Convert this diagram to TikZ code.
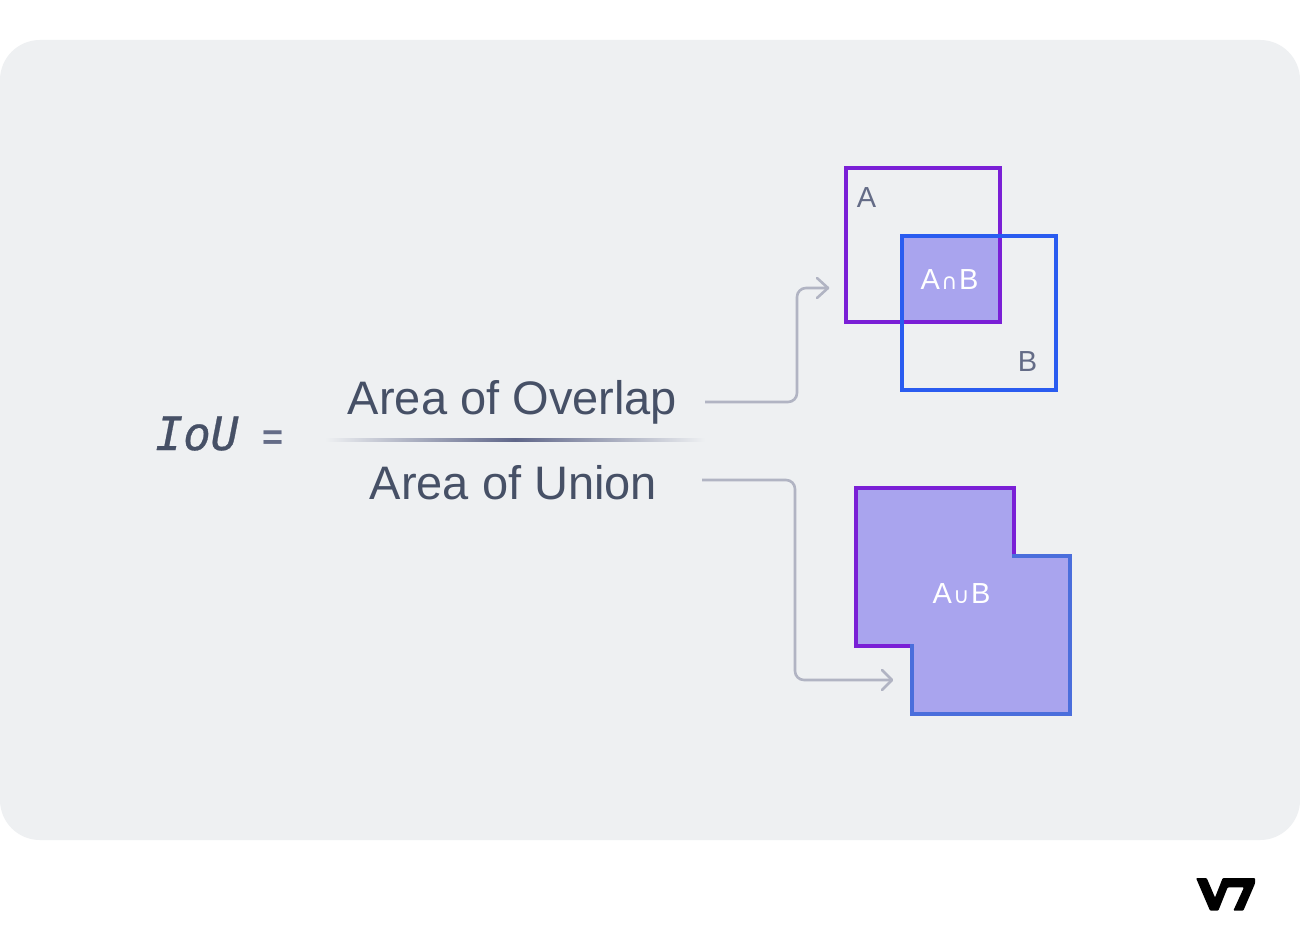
\documentclass[tikz,border=0pt]{standalone}
\usepackage{fontspec}
\setmainfont{Liberation Sans}
\newfontfamily\symfont{DejaVu Sans}
\newfontfamily\monofont[FakeBold=0.6]{DejaVu Sans Mono}
\definecolor{panel}{HTML}{EEF0F2}
\definecolor{ink}{HTML}{465066}
\definecolor{labelink}{HTML}{646C87}
\definecolor{purp}{HTML}{7A1FD6}
\definecolor{blu}{HTML}{2A5CF0}
\definecolor{softblu}{HTML}{4A6EDC}
\definecolor{fillv}{HTML}{A9A4EE}
\definecolor{conn}{HTML}{B1B4C3}
\definecolor{rulec}{HTML}{5F6689}
\tikzset{
  x=1pt,y=-1pt,
  sq/.style={line width=4pt,miter limit=10},
  bigtxt/.style={font=\fontsize{47}{47}\selectfont,text=ink,inner sep=0pt,anchor=base},
  settxt/.style={font=\fontsize{29}{29}\selectfont,text=labelink,inner sep=0pt,anchor=base},
  whitetxt/.style={font=\fontsize{29}{29}\selectfont,text=white,inner sep=0pt,anchor=base},
  connector/.style={draw=conn,line width=2.6pt,rounded corners=9pt},
  chevron/.style={draw=conn,line width=2.6pt,line cap=round,line join=round}
}
\newcommand{\capsym}{\kern1.5pt{\symfont\fontsize{22}{22}\selectfont ∩}\kern1.5pt}
\newcommand{\cupsym}{\kern1.5pt{\symfont\fontsize{22}{22}\selectfont ∪}\kern1.5pt}
\begin{document}
\begin{tikzpicture}
\useasboundingbox (0,0) rectangle (1300,952);
\fill[white] (0,0) rectangle (1300,952);
\fill[panel,rounded corners=40pt] (0,40) rectangle (1300,840);

% formula
\node[inner sep=0pt,anchor=base,text=ink] (iou) at (197,450) {\fontsize{46}{46}\selectfont\monofont\itshape IoU};
\node[inner sep=0pt,anchor=base,text=labelink] (eq) at (273,449) {\fontsize{36}{36}\selectfont\bfseries =};
\node[bigtxt] (overlap) at (512.5,414) {Area of Overlap};
\node[bigtxt] (union) at (513.5,499) {Area of Union};
\shade[left color=panel,right color=panel,middle color=rulec] (325,438.5) rectangle (705,441.5);

% A intersection B
\fill[fillv] (902,236) rectangle (1000,322);
\node[draw=purp,sq,minimum width=154pt,minimum height=154pt,inner sep=0pt,outer sep=0pt] (boxA) at (923,245) {};
\node[draw=blu,sq,minimum width=154pt,minimum height=154pt,inner sep=0pt,outer sep=0pt] (boxB) at (979,313) {};
\node[settxt] (labelA) at (866.5,207.5) {A};
\node[settxt] (labelB) at (1027.5,371.5) {B};
\node[whitetxt] (inter) at (949.5,289.5) {A\capsym B};

% A union B
\fill[fillv] (856,488) -- (1014,488) -- (1014,556) -- (1070,556) -- (1070,714) -- (912,714) -- (912,646) -- (856,646) -- cycle;
\draw[purp,sq] (914,646) -- (856,646) -- (856,488) -- (1014,488) -- (1014,558);
\draw[softblu,sq] (1012,556) -- (1070,556) -- (1070,714) -- (912,714) -- (912,644);
\node[whitetxt] (unionlabel) at (961.5,603.5) {A\cupsym B};

% connectors
\coordinate (overlapOut) at (705,402);
\coordinate (overlapIn) at (828,288);
\coordinate (unionOut) at (702,480);
\coordinate (unionIn) at (892,680);
\draw[connector] (overlapOut) -- (797,402) -- (797,288) -- (overlapIn);
\draw[chevron] (817,278) -- (overlapIn) -- (817,298);
\draw[connector] (unionOut) -- (795,480) -- (795,680) -- (unionIn);
\draw[chevron] (882,670) -- (unionIn) -- (882,690);

% logo
\fill[black,rounded corners=1pt] (1196,878) -- (1206.7,878) -- (1215,897.5) -- (1222.7,878) -- (1255,878) -- (1255,883.5) -- (1243.3,910.7) -- (1233.3,910.7) -- (1244,887.3) -- (1227.7,887.3) -- (1218.3,910.7) -- (1210,910.7) -- cycle;
\end{tikzpicture}
\end{document}
